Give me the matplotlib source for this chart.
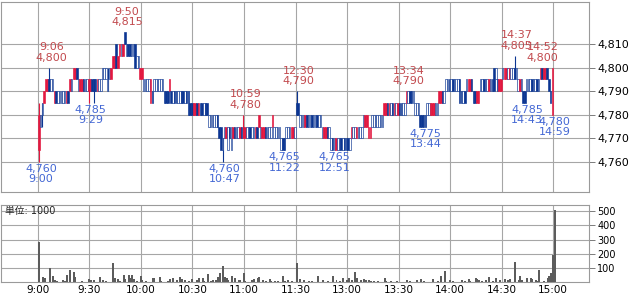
import matplotlib
matplotlib.use('Agg')
import matplotlib.pyplot as plt

plt.rcParams['font.family'] = ['DejaVu Sans', 'Noto Sans CJK JP']

# ========================
# 1. データ (1分足, 9:00=0, 12:30=150)
# ========================
time_ticks = [0, 30, 60, 90, 120, 150, 180, 210, 240, 270, 300]
time_labels = ['9:00', '9:30', '10:00', '10:30', '11:00', '11:30',
               '13:00', '13:30', '14:00', '14:30', '15:00']
price_ticks = [4760, 4770, 4780, 4790, 4800, 4810]
vol_ticks = [100, 200, 300, 400, 500]

body_lo = [
    4765, 4775, 4780, 4785, 4790, 4790, 4790, 4790, 4790, 4785,  # 9:00
    4785, 4785, 4785, 4785, 4785, 4785, 4785, 4785, 4790, 4790,
    4795, 4795, 4795, 4790, 4790, 4790, 4790, 4790, 4790, 4790,
    4790, 4790, 4790, 4790, 4790, 4790, 4790, 4795, 4795, 4795,  # 9:30
    4790, 4795, 4795, 4800, 4800, 4800, 4800, 4805, 4805, 4805,
    4810, 4805, 4805, 4805, 4805, 4805, 4800, 4800, 4800, 4795,
    4795, 4790, 4790, 4790, 4790, 4785, 4785, 4790, 4790, 4790,  # 10:00
    4790, 4790, 4790, 4785, 4785, 4785, 4790, 4785, 4785, 4785,
    4785, 4785, 4785, 4785, 4785, 4785, 4785, 4780, 4780, 4780,
    4780, 4780, 4780, 4780, 4780, 4780, 4780, 4780, 4780, 4775,  # 10:30
    4775, 4775, 4775, 4775, 4775, 4770, 4765, 4765, 4770, 4770,
    4765, 4770, 4765, 4770, 4770, 4770, 4770, 4770, 4770, 4770,
    4770, 4770, 4770, 4770, 4770, 4770, 4770, 4770, 4775, 4770,  # 11:00
    4770, 4770, 4770, 4770, 4770, 4770, 4775, 4770, 4770, 4770,
    4770, 4765, 4765, 4765, 4770, 4770, 4770, 4770, 4770, 4770,
    4780, 4780, 4775, 4775, 4775, 4775, 4775, 4775, 4775, 4775,  # 12:30
    4775, 4775, 4775, 4775, 4775, 4770, 4770, 4770, 4770, 4770,
    4765, 4765, 4765, 4765, 4765, 4765, 4765, 4765, 4765, 4765,
    4765, 4765, 4770, 4770, 4770, 4770, 4770, 4770, 4770, 4775,  # 13:00
    4775, 4775, 4770, 4770, 4775, 4775, 4775, 4775, 4775, 4775,
    4775, 4780, 4780, 4780, 4780, 4780, 4780, 4780, 4780, 4780,
    4780, 4780, 4780, 4780, 4785, 4785, 4785, 4785, 4785, 4780,  # 13:30
    4780, 4780, 4775, 4775, 4775, 4775, 4780, 4780, 4780, 4780,
    4780, 4780, 4780, 4785, 4785, 4785, 4785, 4790, 4790, 4790,
    4790, 4790, 4790, 4790, 4790, 4785, 4785, 4785, 4785, 4790,  # 14:00
    4790, 4790, 4790, 4785, 4785, 4785, 4785, 4790, 4790, 4790,
    4790, 4790, 4790, 4790, 4790, 4790, 4795, 4790, 4790, 4790,
    4795, 4795, 4795, 4795, 4795, 4795, 4795, 4795, 4795, 4790,  # 14:30
    4790, 4790, 4785, 4785, 4790, 4790, 4790, 4790, 4790, 4790,
    4790, 4790, 4795, 4795, 4795, 4795, 4795, 4790, 4785, 4780,
]
body_hi = [
    4780, 4780, 4785, 4790, 4795, 4795, 4795, 4795, 4795, 4790,  # 9:00
    4790, 4790, 4790, 4790, 4790, 4790, 4790, 4790, 4795, 4795,
    4800, 4800, 4800, 4795, 4795, 4795, 4795, 4795, 4795, 4795,
    4795, 4795, 4795, 4795, 4795, 4795, 4795, 4800, 4800, 4800,  # 9:30
    4795, 4800, 4800, 4805, 4805, 4810, 4805, 4810, 4810, 4810,
    4815, 4810, 4810, 4810, 4810, 4810, 4810, 4805, 4805, 4800,
    4800, 4795, 4795, 4795, 4795, 4795, 4790, 4795, 4795, 4795,  # 10:00
    4795, 4795, 4795, 4790, 4790, 4790, 4795, 4790, 4790, 4790,
    4790, 4790, 4790, 4790, 4790, 4790, 4790, 4790, 4785, 4785,
    4785, 4785, 4785, 4785, 4785, 4785, 4785, 4785, 4785, 4780,  # 10:30
    4780, 4780, 4780, 4780, 4780, 4775, 4775, 4770, 4775, 4775,
    4775, 4775, 4775, 4775, 4775, 4775, 4775, 4775, 4775, 4775,
    4775, 4775, 4775, 4775, 4775, 4775, 4775, 4775, 4780, 4775,  # 11:00
    4775, 4775, 4775, 4775, 4775, 4775, 4780, 4775, 4775, 4775,
    4775, 4770, 4770, 4770, 4775, 4775, 4775, 4775, 4775, 4775,
    4785, 4785, 4780, 4780, 4780, 4780, 4780, 4780, 4780, 4780,  # 12:30
    4780, 4780, 4780, 4780, 4780, 4775, 4775, 4775, 4775, 4775,
    4770, 4770, 4770, 4770, 4770, 4770, 4770, 4770, 4770, 4770,
    4770, 4770, 4775, 4775, 4775, 4775, 4775, 4775, 4775, 4780,  # 13:00
    4780, 4780, 4775, 4775, 4780, 4780, 4780, 4780, 4780, 4780,
    4780, 4785, 4785, 4785, 4785, 4785, 4785, 4785, 4785, 4785,
    4785, 4785, 4785, 4785, 4790, 4790, 4790, 4790, 4790, 4785,  # 13:30
    4785, 4785, 4780, 4780, 4780, 4780, 4785, 4785, 4785, 4785,
    4785, 4785, 4785, 4790, 4790, 4790, 4790, 4795, 4795, 4795,
    4795, 4795, 4795, 4795, 4795, 4795, 4790, 4790, 4790, 4795,  # 14:00
    4795, 4795, 4795, 4790, 4790, 4790, 4790, 4795, 4795, 4795,
    4795, 4795, 4795, 4795, 4795, 4800, 4800, 4795, 4795, 4795,
    4800, 4800, 4800, 4800, 4800, 4800, 4800, 4800, 4800, 4795,  # 14:30
    4795, 4795, 4790, 4790, 4795, 4795, 4795, 4795, 4795, 4795,
    4795, 4795, 4800, 4800, 4800, 4800, 4800, 4795, 4790, 4800,
]
# r=陽線(赤) b=陰線(紺) w=白抜き
kinds = ('rwwrrrbwwr' 'bwwwwwrbrw' 'rrbwrrbwwr'
         'rbbbrwwwww' 'wwrrrbrrwr' 'bwbbwwbwwr'
         'rwwwwrbwww' 'wwwbbbrbwb' 'bwwbbwbbbb'
         'rrbrbbwbbw' 'wwwwbbbwwr' 'wbwrbwwrbr'
         'rwwbwwrbrw' 'rrbwwwrwww' 'wwbbwwwrrw'
         'bbwwwrbwwb' 'wwbwwwrrbw' 'wbwrwwbwbb'
         'bwrwwrwwww' 'rrrrwwwwww' 'wrrbrwbrwr'
         'bbwwrwbbww' 'wwbbbbwwrr' 'rwwrrbwwwb'
         'wbwwwbbwbw' 'rrbbbrrwwb' 'wwrwbbwbrr'
         'wrrwrwwbww' 'rwbbwwwbww' 'bwrbrrbbbr')

wick_min = [0, 2, 6, 29, 32, 40, 107, 119, 150, 277]
wick_lo = [4760, 4775, 4790, 4785, 4785, 4790, 4760, 4770, 4780, 4795]
wick_hi = [4785, 4785, 4800, 4795, 4795, 4800, 4770, 4780, 4790, 4805]

volume = [
    280, 0, 40, 33, 0, 0, 100, 0, 45, 16,
    9, 0, 0, 0, 16, 8, 50, 0, 87, 0,
    70, 40, 0, 5, 0, 8, 0, 0, 0, 20,
    16, 0, 16, 0, 0, 40, 0, 16, 0, 9,
    0, 0, 0, 136, 28, 0, 20, 12, 0, 50,
    23, 0, 50, 28, 50, 23, 0, 9, 0, 45,
    16, 0, 12, 0, 5, 0, 28, 33, 0, 0,
    40, 9, 0, 5, 0, 9, 23, 0, 33, 0,
    16, 0, 40, 23, 0, 16, 0, 9, 0, 23,
    0, 0, 16, 28, 0, 33, 9, 0, 58, 0,
    9, 14, 0, 16, 35, 63, 0, 115, 40, 28,
    16, 0, 45, 0, 33, 0, 16, 16, 0, 63,
    9, 0, 5, 0, 16, 23, 0, 28, 40, 0,
    16, 0, 9, 0, 23, 9, 0, 9, 0, 9,
    0, 0, 45, 9, 0, 16, 0, 9, 0, 0,
    136, 0, 23, 0, 16, 0, 0, 9, 0, 9,
    0, 0, 45, 0, 0, 16, 0, 0, 9, 0,
    0, 45, 0, 16, 0, 9, 0, 28, 0, 16,
    28, 0, 16, 0, 70, 28, 0, 16, 0, 20,
    14, 0, 16, 12, 0, 9, 0, 9, 0, 0,
    0, 28, 9, 0, 0, 7, 0, 0, 7, 0,
    5, 0, 0, 0, 16, 0, 7, 0, 0, 0,
    14, 0, 20, 0, 9, 0, 0, 0, 0, 23,
    0, 0, 9, 0, 45, 0, 80, 0, 0, 16,
    0, 7, 0, 0, 0, 0, 14, 0, 9, 0,
    23, 9, 0, 0, 28, 21, 16, 0, 9, 0,
    16, 0, 40, 0, 9, 0, 28, 0, 16, 0,
    0, 23, 0, 14, 20, 0, 0, 140, 0, 16,
    45, 16, 0, 0, 28, 0, 28, 23, 0, 16,
    9, 87, 0, 0, 9, 0, 28, 47, 63, 192,
    510,
]

# 高値・安値の注記 (分, 価格, 時刻)
hi_min = [6, 50, 119, 150, 214, 277, 292]
hi_price = [4800, 4815, 4780, 4790, 4790, 4805, 4800]
hi_time = ['9:06', '9:50', '10:59', '12:30', '13:34', '14:37', '14:52']
lo_min = [0, 29, 107, 142, 171, 224, 283, 299]
lo_price = [4760, 4785, 4760, 4765, 4765, 4775, 4785, 4780]
lo_time = ['9:00', '9:29', '10:47', '11:22', '12:51', '13:44', '14:43', '14:59']

# ========================
# 2. 描画
# ========================
RED = '#e3173f'
NAVY = '#0b3592'
GRID = '#a6a6a6'
face_map = {'r': RED, 'b': NAVY, 'w': 'white'}
edge_map = {'r': RED, 'b': NAVY, 'w': NAVY}

W, H = 631, 297
fig = plt.figure(figsize=(W / 100, H / 100), dpi=100)
ax = fig.add_axes([1 / W, (H - 192) / H, 588 / W, 190 / H])
axv = fig.add_axes([1 / W, (H - 282.3) / H, 588 / W, 77.3 / H])

x_lo = -21.5
x_hi = 320.9
off = 0.6

for a in (ax, axv):
    a.set_xlim(x_lo, x_hi)
    a.set_xticks(time_ticks)
    a.grid(True, color=GRID, linewidth=0.8)
    a.set_axisbelow(True)
    for s in a.spines.values():
        s.set_color('#9a9a9a')
        s.set_linewidth(0.8)
    a.yaxis.tick_right()
    a.tick_params(axis='y', direction='out', length=4, width=0.6,
                  color='#666666', pad=2)

# ローソク足
xs = [i + off for i in range(len(body_lo))]
heights = [h - l for l, h in zip(body_lo, body_hi)]
wick_colors = [edge_map[kinds[m]] for m in wick_min]
ax.vlines([m + off for m in wick_min], wick_lo, wick_hi, colors=wick_colors,
          linewidth=0.8, zorder=2)
ax.bar(xs, heights, bottom=body_lo, width=0.9,
       color=[face_map[k] for k in kinds],
       edgecolor=[edge_map[k] for k in kinds], linewidth=0.45, zorder=3)

ax.set_ylim(4747.3, 4827.8)
ax.set_yticks(price_ticks)
ax.set_yticklabels([f'{p:,}' for p in price_ticks], fontsize=8)
ax.tick_params(axis='x', length=0, labelbottom=False)

for m, p, t in zip(hi_min, hi_price, hi_time):
    ax.annotate(f'{t}\n{p:,}', xy=(m + off, p), xytext=(2, 5),
                textcoords='offset pixels', ha='center', va='bottom',
                fontsize=8, color='#c24a4e', linespacing=1.05, zorder=5)
for m, p, t in zip(lo_min, lo_price, lo_time):
    ax.annotate(f'{p:,}\n{t}', xy=(m + off, p), xytext=(2, -2),
                textcoords='offset pixels', ha='center', va='top',
                fontsize=8, color='#4468d4', linespacing=1.05, zorder=5)

# 出来高
axv.bar([i + 0.87 for i in range(len(volume))], volume, width=1.15,
        color='#5c5c5c', linewidth=0, zorder=3)
axv.set_ylim(0, 542)
axv.set_yticks(vol_ticks)
axv.set_yticklabels([str(v) for v in vol_ticks], fontsize=7)
axv.set_xticklabels(time_labels, fontsize=7.5)
axv.tick_params(axis='x', length=0, pad=2)
axv.text(0.006, 0.922, '単位: 1000', transform=axv.transAxes,
         fontsize=7, va='center', ha='left', color='#222222')

fig.savefig('out.png', dpi=100)
